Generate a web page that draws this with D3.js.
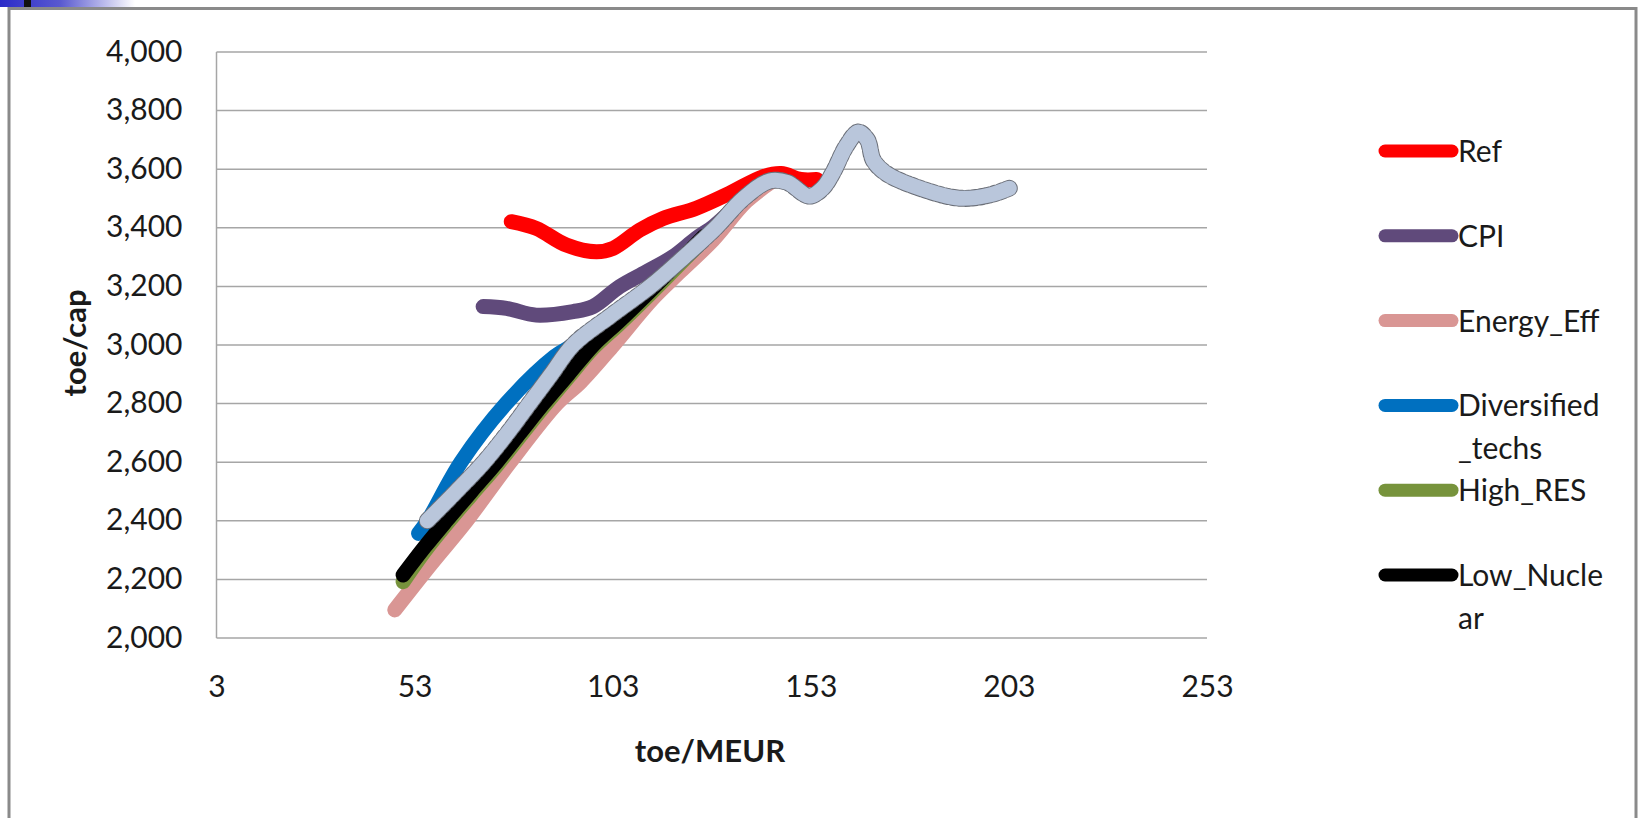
<!DOCTYPE html>
<html>
<head>
<meta charset="utf-8">
<script src="https://cdn.jsdelivr.net/npm/d3@7"></script>
<style>
  html, body { margin: 0; padding: 0; background: #fff; }
  svg { display: block; }
  text { font-family: Lato, "Open Sans", sans-serif; fill: #1a1a1a; }
</style>
</head>
<body>
<svg id="chart" width="1640" height="818"></svg>
<script>
// ---- data (x = toe/MEUR, y = toe/cap) ----
const ref = [[77.4,3421],[83.7,3398],[91.3,3341],[98.9,3318],[103.1,3330],[109.8,3392],[115.7,3432],[124.1,3467],[132.5,3518],[140.9,3574],[145.5,3585],[150.5,3565],[154.5,3565]];
const cpi = [[70.3,3131],[76.2,3125],[83.7,3102],[93.0,3114],[98.0,3131],[104.7,3199],[111.5,3250],[118.2,3301],[124.1,3364],[128.5,3405],[133,3460]];
const energyEff = [[48.0,2096],[57,2250],[66.1,2400],[77.1,2600],[88.9,2800],[95,2875],[103.2,3000],[112.8,3154],[120,3250],[128.3,3358],[136.7,3490],[143.4,3560]];
const diversified = [[54.0,2357],[56.3,2400],[64.7,2600],[76.1,2800],[88.3,2960],[93,3000],[102.5,3100],[112.5,3200],[121,3300],[128,3390]];
const highRes = [[50.1,2192],[55.5,2295],[61,2388],[67.3,2488],[73.7,2588],[79.6,2688],[85.5,2788],[91.8,2890],[98.1,2990],[104.5,3070],[111,3155],[118,3250],[126,3360]];
const lowNuclear = [[50.1,2215],[55.5,2310],[61,2400],[67.3,2500],[73.7,2600],[79.6,2700],[85.5,2800],[91.8,2900],[98.1,3000],[104.5,3080],[111,3165],[118,3260],[126,3370]];
const unlabeled = [[56.2,2400],[63.5,2500],[70.5,2600],[76.5,2700],[82,2800],[87.5,2900],[93,3000],[102.5,3100],[112.5,3200],[121,3300],[129,3400],[136,3500],[142.6,3560],[147,3555],[152.6,3508],[156,3535],[158.5,3586],[162,3680],[165,3727],[167.3,3700],[168.8,3630],[172,3586],[179.5,3540],[190.5,3501],[198.1,3512],[203.1,3535]];

const seriesNames = ["Ref","CPI","Energy_Eff","Diversified_techs","High_RES","Low_Nuclear"];
const seriesColors = ["#FF0000","#604A7B","#D99694","#0070C0","#77933C","#000000"];
const legendLabels = [["Ref"],["CPI"],["Energy_Eff"],["Diversified","_techs"],["High_RES"],["Low_Nucle","ar"]];
const xTicks = [3,53,103,153,203,253];
const yTicks = [2000,2200,2400,2600,2800,3000,3200,3400,3600,3800,4000];
const xTitle = "toe/MEUR";
const yTitle = "toe/cap";

// ---- layout ----
const svg = d3.select("#chart");
const W = 1640, H = 818;
const plot = {left: 216.5, right: 1207, top: 52, bottom: 638};
const x = d3.scaleLinear().domain([3,253]).range([plot.left, plot.right]);
const y = d3.scaleLinear().domain([2000,4000]).range([plot.bottom, plot.top]);

svg.append("rect").attr("width",W).attr("height",H).attr("fill","#fff");

// slide decoration top-left
const defs = svg.append("defs");
const grad = defs.append("linearGradient").attr("id","hdr").attr("x1","0").attr("x2","1");
grad.append("stop").attr("offset","0").attr("stop-color","#2B2BC8");
grad.append("stop").attr("offset","0.45").attr("stop-color","#5A5AD0");
grad.append("stop").attr("offset","1").attr("stop-color","#FFFFFF");
svg.append("rect").attr("x",0).attr("y",0).attr("width",135).attr("height",7).attr("fill","url(#hdr)");
svg.append("rect").attr("x",24).attr("y",0).attr("width",7).attr("height",7).attr("fill","#111");

// chart frame
svg.append("rect").attr("x",9).attr("y",8.5).attr("width",1627).attr("height",830)
  .attr("fill","none").attr("stroke","#8a8a8a").attr("stroke-width",3);

// gridlines
const gridG = svg.append("g");
gridG.selectAll("line").data(yTicks).join("line")
  .attr("x1",plot.left).attr("x2",plot.right)
  .attr("y1",d=>y(d)).attr("y2",d=>y(d))
  .attr("stroke","#A6A6A6").attr("stroke-width",1.5);
// y axis line
svg.append("line").attr("x1",plot.left).attr("x2",plot.left).attr("y1",plot.top).attr("y2",plot.bottom)
  .attr("stroke","#A6A6A6").attr("stroke-width",1.5);

// y axis labels
const fmt = d3.format(",");
const yAxis = d3.axisLeft(y).tickValues(yTicks).tickFormat(fmt).tickSize(0).tickPadding(34);
const yg = svg.append("g").attr("transform",`translate(${plot.left},0)`).call(yAxis);
yg.select(".domain").remove();
yg.selectAll("text").style("font-size","30px").style("font-family","Lato, sans-serif").attr("fill","#1a1a1a").attr("dy","0.3em");

// x axis labels
const xAxis = d3.axisBottom(x).tickValues(xTicks).tickFormat(d3.format("d")).tickSize(0).tickPadding(38);
const xg = svg.append("g").attr("transform",`translate(0,${plot.bottom})`).call(xAxis);
xg.select(".domain").remove();
xg.selectAll("text").style("font-size","30px").style("font-family","Lato, sans-serif").attr("fill","#1a1a1a");

// axis titles
svg.append("text").attr("x",710).attr("y",762).attr("text-anchor","middle")
  .style("font-size","31px").style("font-weight","bold").text(xTitle);
svg.append("text").attr("transform","translate(86,343) rotate(-90)").attr("text-anchor","middle")
  .style("font-size","31px").style("font-weight","bold").text(yTitle);

// lines
const line = d3.line().x(d=>x(d[0])).y(d=>y(d[1])).curve(d3.curveCatmullRom.alpha(0.5));
const allSeries = [ref, cpi, energyEff, diversified, highRes, lowNuclear];
const lineG = svg.append("g");
allSeries.forEach((s,i)=>{
  lineG.append("path").datum(s).attr("d",line)
    .attr("fill","none").attr("stroke",seriesColors[i]).attr("stroke-width",15)
    .attr("stroke-linecap","round").attr("stroke-linejoin","round");
});
// unlabeled top series with dashed outline
lineG.append("path").datum(unlabeled).attr("d",line)
  .attr("fill","none").attr("stroke","#6b6f78").attr("stroke-width",17)
  .attr("stroke-dasharray","4,3").attr("stroke-linecap","round").attr("stroke-linejoin","round");
lineG.append("path").datum(unlabeled).attr("d",line)
  .attr("fill","none").attr("stroke","#B9C6DB").attr("stroke-width",15)
  .attr("stroke-linecap","round").attr("stroke-linejoin","round");

// legend
const legY0 = 151, legStep = 84.8;
const leg = svg.append("g");
seriesNames.forEach((n,i)=>{
  const ly = legY0 + i*legStep;
  leg.append("line").attr("x1",1385).attr("x2",1452).attr("y1",ly).attr("y2",ly)
    .attr("stroke",seriesColors[i]).attr("stroke-width",13).attr("stroke-linecap","round");
  const t = leg.append("text").attr("x",1458).attr("y",ly+11).style("font-size","30px");
  legendLabels[i].forEach((l,j)=>{
    t.append("tspan").attr("x",1458).attr("dy", j===0?0:43).text(l);
  });
});
</script>
</body>
</html>
